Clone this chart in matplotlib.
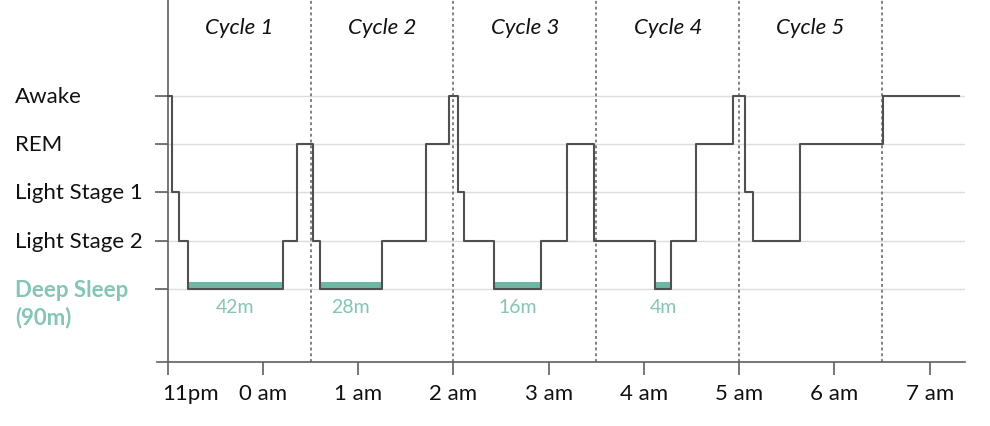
import matplotlib
matplotlib.use("Agg")
import matplotlib.pyplot as plt
from matplotlib.transforms import blended_transform_factory, ScaledTranslation

# ---- data ----
stage_names = ["Deep Sleep\n(90m)", "Light Stage 2", "Light Stage 1", "REM", "Awake"]
stage_levels = [1, 2, 3, 4, 5]
# minutes after 11pm at which the stage changes, and the stage entered
change_min = [0.0, 2.9, 7.3, 12.5, 72.8, 81.4, 91.3, 95.9, 134.9, 162.5, 177.1,
              182.9, 186.5, 205.7, 235.3, 251.7, 268.7, 307.1, 316.9, 333.0,
              355.8, 363.8, 368.5, 398.3, 450.4, 498.4]
stage_seq = [5, 3, 2, 1, 2, 4, 2, 1, 2, 4, 5,
             3, 2, 1, 2, 4, 2, 1, 2, 4,
             5, 3, 2, 4, 5, 5]
deep_labels = ["42m", "28m", "16m", "4m"]
cycle_names = ["Cycle 1", "Cycle 2", "Cycle 3", "Cycle 4", "Cycle 5"]
cycle_bounds_h = [0.0, 1.5, 3.0, 4.5, 6.0, 7.5]
tick_hours = [0, 1, 2, 3, 4, 5, 6, 7, 8]
tick_labels = ["11pm", "0 am", "1 am", "2 am", "3 am", "4 am", "5 am", "6 am", "7 am"]

# ---- style ----
FONT = ["Lato", "DejaVu Sans"]
plt.rcParams["font.family"] = FONT
teal_bar = "#6fb7a5"
teal_txt = "#84c5b6"
line_col = "#505050"
axis_col = "#606060"

fig = plt.figure(figsize=(9.9, 4.27), dpi=100)
ax = fig.add_axes([0.1583, 0.1506, 0.9747 - 0.1583, 1 - 0.1506])
ax.set_xlim(-0.115, 8.37)
ax.set_ylim(-0.5, 7)

hours = [m / 60.0 for m in change_min]

# grid lines
for lv in stage_levels:
    ax.axhline(lv, color="#dcdcdc", lw=1.0, zorder=0)

# hypnogram
ax.step(hours, stage_seq, where="post", color=line_col, lw=1.5, zorder=3)

# deep sleep bars + labels
k = 0
for i in range(len(stage_seq) - 1):
    if stage_seq[i] == 1:
        x0, x1 = hours[i], hours[i + 1]
        ax.bar(x0, 0.15, width=x1 - x0, bottom=1, align="edge",
               color=teal_bar, edgecolor="none", zorder=2)
        ax.text((x0 + x1) / 2, 1 - 0.36, deep_labels[k], ha="center", va="center",
                color=teal_txt, fontsize=14)
        k += 1

# cycle dividers
for b in cycle_bounds_h[1:]:
    ax.axvline(b, color="#777777", lw=1.3, ls=(0, (1.6, 1.6)), zorder=1)
for j, name in enumerate(cycle_names):
    ax.text((cycle_bounds_h[j] + cycle_bounds_h[j + 1]) / 2, 6.42, name,
            ha="center", va="center", style="italic", fontsize=16, color="#111111")

# spines / ticks
for s in ["top", "right"]:
    ax.spines[s].set_visible(False)
ax.spines["left"].set_position(("data", 0))
ax.spines["left"].set_color(axis_col)
ax.spines["bottom"].set_color(axis_col)
ax.spines["left"].set_linewidth(1.2)
ax.spines["bottom"].set_linewidth(1.2)

ax.set_yticks(stage_levels)
ax.set_yticklabels([])
ax.tick_params(axis="y", length=9.5, width=1.2, color=axis_col, direction="out")
ax.set_xticks(tick_hours)
ax.set_xticklabels(tick_labels, fontsize=16, color="#111111")
ax.tick_params(axis="x", length=9, width=1.2, color=axis_col, direction="out", pad=6)
first = ax.get_xticklabels()[0]
first.set_horizontalalignment("left")
first.set_transform(first.get_transform() + ScaledTranslation(-5 / 100, 0, fig.dpi_scale_trans))

trans = blended_transform_factory(fig.transFigure, ax.transData)
for lv, name in zip(stage_levels, stage_names):
    if lv == 1:
        ax.text(15 / 990, lv + 0.2, name, transform=trans, ha="left", va="top",
                fontsize=16, fontweight="bold", color=teal_txt, linespacing=1.3)
    else:
        ax.text(15 / 990, lv, name, transform=trans, ha="left", va="center",
                fontsize=16, color="#111111")

fig.savefig("out.png", dpi=100)
